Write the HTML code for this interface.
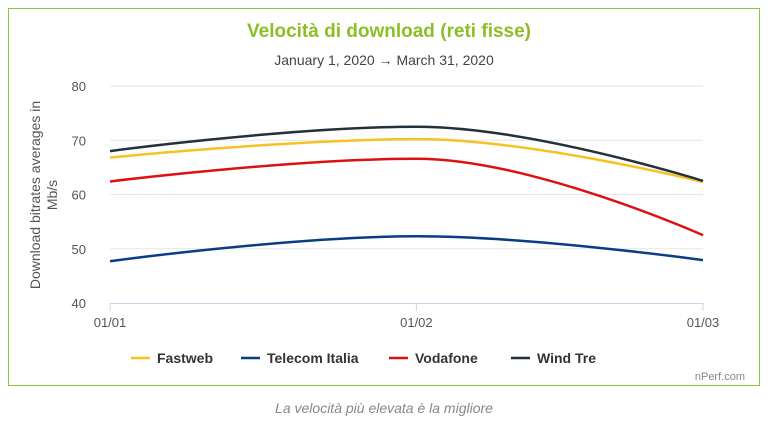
<!DOCTYPE html>
<html><head><meta charset="utf-8"><style>
body{margin:0;background:#fff;width:768px;height:422px;overflow:hidden;font-family:"Liberation Sans",sans-serif}
</style></head><body>
<svg width="768" height="422" id="c">
<rect x="8.5" y="8.5" width="751" height="377" fill="#fff" stroke="#8cc63f" stroke-width="1"/>
<text x="389" y="37" text-anchor="middle" font-size="19" font-weight="bold" fill="#8cbf26">Velocità di download (reti fisse)</text>
<text x="384" y="65" text-anchor="middle" font-size="14" fill="#444">January 1, 2020 → March 31, 2020</text>
<g id="grid"></g>
<g id="lines"></g>
<text transform="translate(40,195) rotate(-90)" text-anchor="middle" font-size="14" fill="#555"><tspan x="0" dy="0">Download bitrates averages in</tspan><tspan x="0" dy="17">Mb/s</tspan></text>
<g id="legend"></g>
<text x="745" y="380" text-anchor="end" font-size="11" fill="#888">nPerf.com</text>
<text x="384" y="413" text-anchor="middle" font-size="14" font-style="italic" fill="#888">La velocità più elevata è la migliore</text>
</svg>
<script>
const categories=["01/01","01/02","01/03"];
const categoryDays=[0,31,60];
const yTicks=[40,50,60,70,80];
const seriesNames=["Fastweb","Telecom Italia","Vodafone","Wind Tre"];
const seriesColors=["#f5c220","#0a3d82","#dd1111","#24313a"];
const fastweb=[66.8,70.2,62.3];
const telecom=[47.7,52.3,47.9];
const vodafone=[62.4,66.6,52.5];
const windtre=[68.0,72.5,62.5];
const seriesValues=[fastweb,telecom,vodafone,windtre];
const NS="http://www.w3.org/2000/svg";
const x0=110,x1=703,yTop=86,yBot=303,ymin=40,ymax=80;
const dMax=categoryDays[categoryDays.length-1];
const xs=i=>x0+(x1-x0)*categoryDays[i]/dMax;
const ys=v=>yBot-(v-ymin)/(ymax-ymin)*(yBot-yTop);
function mk(t,a,p){const e=document.createElementNS(NS,t);for(const k in a)e.setAttribute(k,a[k]);p.appendChild(e);return e;}
const grid=document.getElementById('grid');
yTicks.forEach(v=>{
 if(v!==ymin){const l=mk('line',{x1:x0,x2:x1,y1:ys(v),y2:ys(v),stroke:'#e6e6e6'},grid);
 
 }
 const t=mk('text',{x:86,y:ys(v)+5,'text-anchor':'end','font-size':13,fill:'#555'},grid);t.textContent=v;
 
 
});
const ax=mk('line',{x1:x0,x2:x1,y1:yBot+0.5,y2:yBot+0.5,stroke:'#ccd6eb'},grid);


categories.forEach((c,i)=>{
 mk('line',{x1:xs(i),x2:xs(i),y1:yBot,y2:yBot+8,stroke:'#ccd6eb'},grid);
 const t=mk('text',{x:xs(i),y:yBot+24,'text-anchor':'middle','font-size':13,fill:'#555'},grid);t.textContent=c;
 
 
});
function splinePath(pts){
 const n=pts.length,L=[],R=[];
 for(let i=0;i<n;i++){
  const [x,y]=pts[i];
  if(i===0||i===n-1){L.push([x,y]);R.push([x,y]);continue;}
  const [px,py]=pts[i-1],[nx,ny]=pts[i+1];
  let lx=(1.5*x+px)/2.5,ly=(1.5*y+py)/2.5,rx=(1.5*x+nx)/2.5,ry=(1.5*y+ny)/2.5;
  if(rx!==lx){const c=((ry-ly)*(rx-x))/(rx-lx)+y-ry;ly+=c;ry+=c;}
  if(ly>py&&ly>y){ly=Math.max(py,y);ry=2*y-ly;}else if(ly<py&&ly<y){ly=Math.min(py,y);ry=2*y-ly;}
  if(ry>ny&&ry>y){ry=Math.max(ny,y);ly=2*y-ry;}else if(ry<ny&&ry<y){ry=Math.min(ny,y);ly=2*y-ry;}
  L.push([lx,ly]);R.push([rx,ry]);
 }
 let d='M'+pts[0][0]+','+pts[0][1];
 for(let i=1;i<n;i++)d+=` C${R[i-1][0]},${R[i-1][1]} ${L[i][0]},${L[i][1]} ${pts[i][0]},${pts[i][1]}`;
 return d;
}
const lines=document.getElementById('lines');
seriesValues.forEach((vals,s)=>{
 const pts=vals.map((v,i)=>[xs(i),ys(v)]);
 const p=mk('path',{d:splinePath(pts),fill:'none',stroke:seriesColors[s],'stroke-width':2.5},lines);
 
 
});
const lg=document.getElementById('legend');
const lx=[131,241,389,511];
seriesNames.forEach((n,s)=>{
 const g=mk('g',{},lg);
 
 
 mk('line',{x1:lx[s],x2:lx[s]+19,y1:358,y2:358,stroke:seriesColors[s],'stroke-width':2.5},g);
 const t=mk('text',{x:lx[s]+26,y:363,'font-size':14,'font-weight':'bold',fill:'#333'},g);t.textContent=n;
});
</script>
</body></html>
